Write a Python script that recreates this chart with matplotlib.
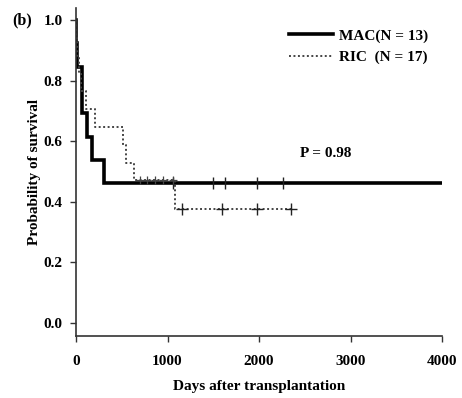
import matplotlib
matplotlib.use("Agg")
import matplotlib.pyplot as plt

# ---- data ----
mac_times = [0, 5, 15, 65, 115, 170, 310, 4000]
mac_surv = [1.0, 0.923, 0.846, 0.692, 0.615, 0.538, 0.462, 0.462]
mac_censor_times = [1063, 1501, 1628, 1975, 2266]
mac_censor_surv = [0.462, 0.462, 0.462, 0.462, 0.462]

ric_times = [0, 5, 10, 30, 55, 113, 204, 510, 547, 634, 1083, 2360]
ric_surv = [1.0, 0.941, 0.882, 0.824, 0.765, 0.706, 0.647, 0.588, 0.529, 0.471, 0.376, 0.376]
ric_censor_times_a = [700, 780, 860, 950, 1060]
ric_censor_surv_a = [0.471, 0.471, 0.471, 0.471, 0.471]
ric_censor_times_b = [1155, 1592, 1982, 2347]
ric_censor_surv_b = [0.376, 0.376, 0.376, 0.376]

xticks = [0, 1000, 2000, 3000, 4000]
yticks = [0.0, 0.2, 0.4, 0.6, 0.8, 1.0]
mac_label = "MAC(N = 13)"
ric_label = "RIC  (N = 17)"
p_text = "P = 0.98"

plt.rcParams['font.family'] = ['Liberation Serif', 'DejaVu Serif']
plt.rcParams['font.weight'] = 'bold'

FS = 11

fig = plt.figure(figsize=(4.62, 3.98), dpi=100)
ax = fig.add_axes([76/462, 1-336/398, 366/462, 328/398])

ax.step(mac_times, mac_surv, where='post', color='black', lw=2.6, label=mac_label, solid_joinstyle='miter')
ax.step(ric_times, ric_surv, where='post', color='#444444', lw=1.4,
        linestyle=(0, (1, 1.3)), label=ric_label)
ax.plot(mac_censor_times, mac_censor_surv, linestyle='none', marker='|', ms=8, mew=1.0, color='#222222')
ax.plot(ric_censor_times_a, ric_censor_surv_a, linestyle='none', marker='+', ms=6, mew=0.9, color='#444444')
ax.plot(ric_censor_times_b, ric_censor_surv_b, linestyle='none', marker='+', ms=8, mew=1.0, color='#222222')

ax.set_xlim(0, 4000)
ax.set_ylim(-0.043, 1.04)
ax.set_xticks(xticks)
ax.set_xticklabels([str(t) for t in xticks])
ax.set_yticks(yticks)
ax.set_yticklabels([f"{t:.1f}" for t in yticks])
for s in ['top', 'right']:
    ax.spines[s].set_visible(False)
for s in ['left', 'bottom']:
    ax.spines[s].set_color('#333333')
    ax.spines[s].set_linewidth(1.2)
ax.tick_params(direction='out', length=4.5, width=1.0, color='#333333', labelsize=FS)
ax.tick_params(axis='x', pad=9)
ax.tick_params(axis='y', pad=5)
for lab in ax.get_xticklabels() + ax.get_yticklabels():
    lab.set_fontweight('bold')

ax.set_xlabel("Days after transplantation", fontsize=FS, fontweight='bold')
ax.xaxis.set_label_coords(0.5, -0.135)
ax.set_ylabel("Probability of survival", fontsize=FS, fontweight='bold')
ax.yaxis.set_label_coords(-0.096, 0.5)

leg = ax.legend(loc='upper left', bbox_to_anchor=(0.582, 0.937), frameon=False,
                fontsize=FS, handlelength=2.85, handletextpad=0.45,
                labelspacing=0.5, borderpad=0, borderaxespad=0)
for t in leg.get_texts():
    t.set_fontweight('bold')

ax.text(2733, 0.561, p_text, ha='center', va='center', fontsize=FS, fontweight='bold')
fig.text(22/462, 1-20/398, "(b)", ha='center', va='center', fontsize=11.5, fontweight='bold')

fig.savefig("out.png", dpi=100)
